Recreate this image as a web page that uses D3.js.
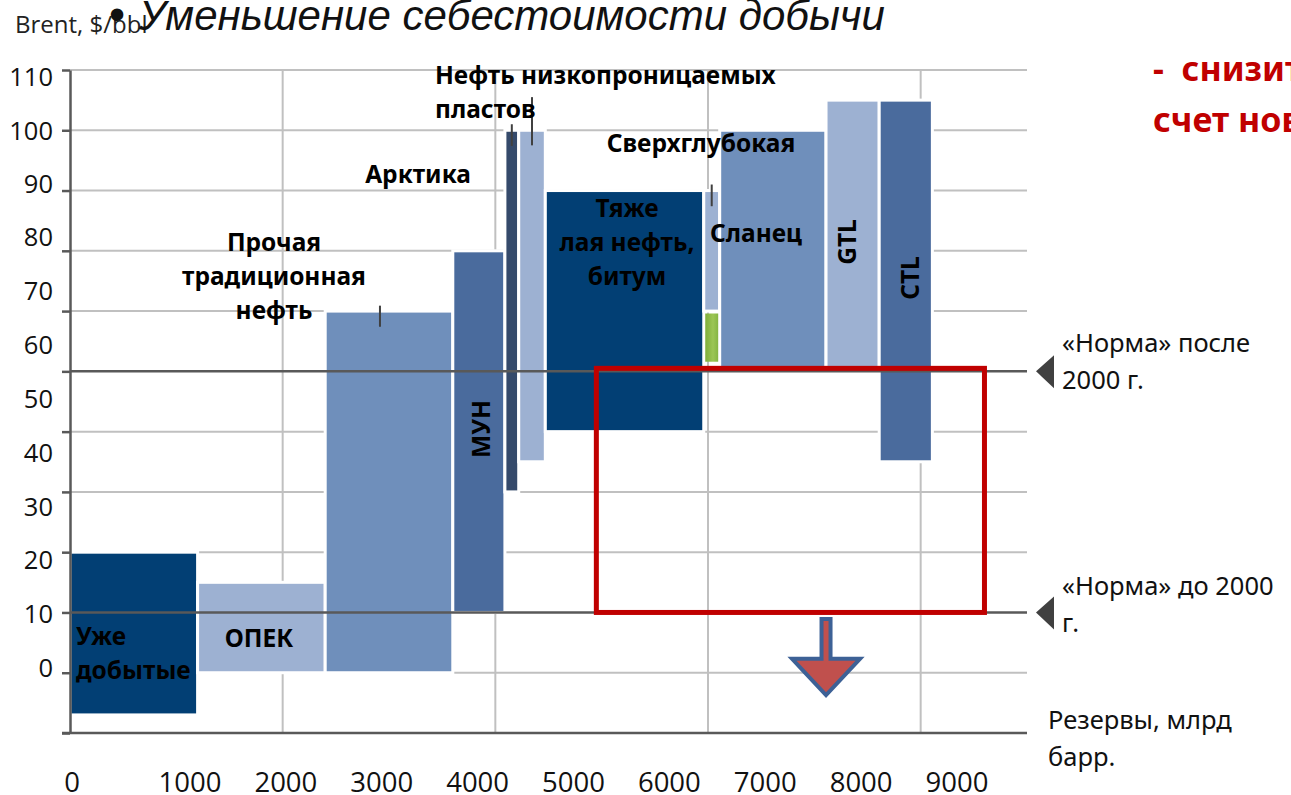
<!DOCTYPE html>
<html lang="ru">
<head>
<meta charset="UTF-8">
<title>Себестоимость добычи</title>
<script src="https://d3js.org/d3.v7.min.js"></script>
<style>
  body { margin: 0; background: #fff; }
  svg { display: block; }
</style>
</head>
<body>
<svg></svg>
<script>
const width = 1291, height = 795;

// resources in order along the supply curve
const categories = ["Уже добытые", "ОПЕК", "Прочая традиционная нефть", "МУН", "Арктика",
  "Нефть низкопроницаемых пластов", "Тяжелая нефть, битум", "Сланец", "Сверхглубокая", "GTL", "CTL"];
// reserves, bn bbl (bar widths)
const reserves = [1200, 1200, 1200, 490, 130, 250, 1490, 150, 1000, 500, 500];
// production cost range, Brent $/bbl
const costLow  = [-7, 0, 0, 10, 30, 35, 40, 60, 50, 50, 35];
const costHigh = [20, 15, 60, 70, 90, 90, 80, 80, 90, 95, 95];
// green part under the shale bar
const shaleGreen = [51.6, 59.6];
// small range marks
const markAt   = [2915, 4155, 4345, 6035];
const markLow  = [57.4, 87.4, 87.5, 77.4];
const markHigh = [60.9, 91.0, 95.5, 81.0];

const yTicks = [0, 10, 20, 30, 40, 50, 60, 70, 80, 90, 100, 110];
const xTicks = [0, 1000, 2000, 3000, 4000, 5000, 6000, 7000, 8000, 9000];
const normAfter = 50, normBefore = 10;

const barColors = ["#023f74", "#9db1d2", "#6f8fbb", "#4a6b9d", "#354a6b",
  "#9db1d2", "#023f74", "#9db1d2", "#6f8fbb", "#9db1d2", "#4a6b9d"];

const svg = d3.select("svg").attr("width", width).attr("height", height);

const x = d3.scaleLinear().domain([0, 9000]).range([70, 1027]);
const y = d3.scaleLinear().domain([-10, 100]).range([733, 70]);
// tick labels on the slide sit a bit off the grid
const xLab = d3.scaleLinear().domain([0, 1000, 9000]).range([72, 190, 957]);
const yLab = d3.scaleLinear().domain([0, 80, 110]).range([668, 237, 77]);

const grid = "#c0c0c0", dark = "#595959";

// horizontal grid
svg.append("g").selectAll("line")
  .data(d3.range(0, 101, 10).filter(v => v !== normAfter && v !== normBefore))
  .join("line")
  .attr("x1", x(0)).attr("x2", x(9000))
  .attr("y1", d => y(d)).attr("y2", d => y(d))
  .attr("stroke", grid).attr("stroke-width", 2);

// vertical grid
svg.append("g").selectAll("line")
  .data([2000, 4000, 6000, 8000])
  .join("line")
  .attr("x1", d => x(d)).attr("x2", d => x(d))
  .attr("y1", y(100)).attr("y2", y(-10))
  .attr("stroke", grid).attr("stroke-width", 2);

// bars
let acc = 0;
const bars = categories.map((c, i) => {
  const x0 = acc; acc += reserves[i];
  return { name: c, x0: x0, x1: acc, lo: costLow[i], hi: costHigh[i], color: barColors[i] };
});

svg.append("g").selectAll("rect")
  .data(bars)
  .join("rect")
  .attr("x", d => x(d.x0))
  .attr("width", d => x(d.x1) - x(d.x0))
  .attr("y", d => y(d.hi))
  .attr("height", d => y(d.lo) - y(d.hi))
  .attr("fill", d => d.color)
  .attr("stroke", "#fff").attr("stroke-width", 3);

const grad = svg.append("defs").append("linearGradient").attr("id", "green")
  .attr("x1", 0).attr("x2", 1).attr("y1", 0).attr("y2", 0);
grad.append("stop").attr("offset", "0%").attr("stop-color", "#7fae3a");
grad.append("stop").attr("offset", "60%").attr("stop-color", "#9cc655");
grad.append("stop").attr("offset", "100%").attr("stop-color", "#86b543");

const shale = bars[7];
svg.append("rect")
  .attr("x", x(shale.x0) + 1.5)
  .attr("width", x(shale.x1) - x(shale.x0) - 3)
  .attr("y", y(shaleGreen[1]))
  .attr("height", y(shaleGreen[0]) - y(shaleGreen[1]))
  .attr("fill", "url(#green)");

// range marks
svg.append("g").selectAll("line")
  .data(markAt)
  .join("line")
  .attr("x1", d => x(d)).attr("x2", d => x(d))
  .attr("y1", (d, i) => y(markHigh[i])).attr("y2", (d, i) => y(markLow[i]))
  .attr("stroke", "#404040").attr("stroke-width", 2);

// norm lines
svg.append("g").selectAll("line")
  .data([normAfter, normBefore])
  .join("line")
  .attr("x1", x(0)).attr("x2", x(9000))
  .attr("y1", d => y(d)).attr("y2", d => y(d))
  .attr("stroke", dark).attr("stroke-width", 2.5);

// axes
const yAxis = svg.append("g").attr("transform", `translate(${x(0)},0)`)
  .call(d3.axisLeft(y).tickValues(d3.range(-10, 101, 10)).tickSize(8).tickSizeOuter(0).tickFormat(""));
yAxis.selectAll("path, line").attr("stroke", dark).attr("stroke-width", 2.5);

const xAxis = svg.append("g").attr("transform", `translate(0,${y(-10)})`)
  .call(d3.axisBottom(x).tickValues([]).tickSizeOuter(0));
xAxis.select("path").attr("stroke", dark).attr("stroke-width", 2.5)
  .attr("d", `M${x(0) - 8},0H${x(9000)}`);

// tick labels
svg.append("g").selectAll("text")
  .data(yTicks)
  .join("text")
  .attr("x", 53).attr("y", d => yLab(d))
  .attr("dy", "0.36em")
  .attr("text-anchor", "end")
  .attr("font-family", "Open Sans").attr("font-size", 25.5).attr("fill", "#111")
  .text(d => d);

svg.append("g").selectAll("text")
  .data(xTicks)
  .join("text")
  .attr("x", d => xLab(d)).attr("y", 792)
  .attr("text-anchor", "middle")
  .attr("font-family", "Open Sans").attr("font-size", 27.5).attr("fill", "#111")
  .text(d => d);

svg.append("text").attr("x", 15).attr("y", 33)
  .attr("font-family", "Open Sans").attr("font-size", 24).attr("fill", "#222")
  .text("Brent, $/bbl");

// title
svg.append("text").attr("x", 109).attr("y", 30)
  .attr("font-family", "Liberation Sans").attr("font-size", 46).attr("fill", "#111").text("•");
svg.append("text").attr("x", 139).attr("y", 30)
  .attr("font-family", "Liberation Sans").attr("font-style", "italic")
  .attr("font-size", 42).attr("fill", "#111")
  .text("Уменьшение себестоимости добычи");

// bar labels
const lab = (tx, ty, lines, anchor, lh) => {
  const t = svg.append("text").attr("x", tx).attr("y", ty)
    .attr("font-family", "Noto Sans").attr("font-weight", "bold")
    .attr("font-size", 24.5).attr("fill", "#000")
    .attr("text-anchor", anchor || "start");
  lines.forEach((s, i) => t.append("tspan").attr("x", tx).attr("dy", i ? (lh || 34) : 0).text(s));
};
lab(76, 645, ["Уже", "добытые"]);
lab(259, 647, ["ОПЕК"], "middle");
lab(274, 251, ["Прочая", "традиционная", "нефть"], "middle");
lab(418, 183, ["Арктика"], "middle");
lab(435, 84, ["Нефть низкопроницаемых", "пластов"]);
lab(701, 152, ["Сверхглубокая"], "middle");
lab(627, 217, ["Тяже", "лая нефть,", "битум"], "middle");
lab(710, 242, ["Сланец"]);

const rot = (cx, cy, s) => svg.append("text")
  .attr("transform", `translate(${cx},${cy}) rotate(-90)`)
  .attr("text-anchor", "middle").attr("dy", "0.36em")
  .attr("font-family", "Noto Sans").attr("font-weight", "bold")
  .attr("font-size", 24.5).attr("fill", "#000").text(s);
rot(481, 429, "МУН");
rot(847, 242, "GTL");
rot(910, 278, "CTL");

// target box and arrow
svg.append("rect")
  .attr("x", x(4950)).attr("y", y(50.5))
  .attr("width", x(8600) - x(4950)).attr("height", y(normBefore) - y(50.5))
  .attr("fill", "none").attr("stroke", "#c00000").attr("stroke-width", 5);

const ax = x(7110), aTop = y(8.9), aHead = y(2.3), aTip = y(-3.7);
svg.append("path")
  .attr("d", `M${ax - 4.5},${aTop}H${ax + 4.5}V${aHead}H${ax + 34}L${ax},${aTip}L${ax - 34},${aHead}H${ax - 4.5}Z`)
  .attr("fill", "#c0504d").attr("stroke", "#3d6196").attr("stroke-width", 4)
  .attr("stroke-linejoin", "miter");

// norm markers
[normAfter, normBefore].forEach(v => {
  const cy = y(v);
  svg.append("path")
    .attr("d", `M1036,${cy}L1054,${cy - 16}V${cy + 17}Z`)
    .attr("fill", "#404040");
});
const note = (tx, ty, lines) => {
  const t = svg.append("text").attr("x", tx).attr("y", ty)
    .attr("font-family", "Noto Sans").attr("font-size", 25.5).attr("fill", "#111");
  lines.forEach((s, i) => t.append("tspan").attr("x", tx).attr("dy", i ? 37 : 0).text(s));
};
note(1062, 352, ["«Норма» после", "2000 г."]);
note(1062, 595, ["«Норма» до 2000", "г."]);
note(1048, 729, ["Резервы, млрд", "барр."]);

// red remark, cut by the slide edge
const red = svg.append("text").attr("x", 1153).attr("y", 81)
  .attr("font-family", "Noto Sans").attr("font-weight", "bold")
  .attr("font-size", 34).attr("fill", "#c00000")
  .attr("xml:space", "preserve").style("white-space", "pre");
red.append("tspan").attr("x", 1153).text("-  снизить");
red.append("tspan").attr("x", 1153).attr("dy", 51).text("счет новых");
</script>
</body>
</html>
